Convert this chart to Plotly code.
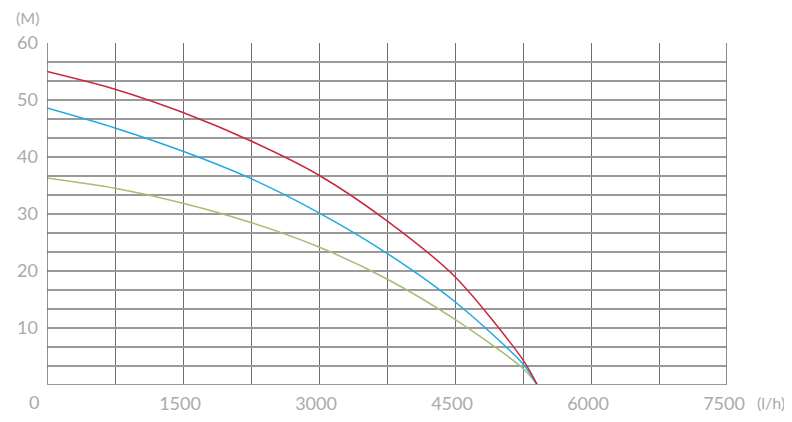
import plotly.graph_objects as go

flow = [0, 750, 1500, 2250, 3000, 3750, 4500, 5250, 5408]
head_red = [55.0, 51.9, 47.8, 42.8, 36.8, 28.8, 19.0, 4.4, 0.0]
head_blue = [48.6, 45.1, 41.0, 36.2, 30.2, 23.1, 14.6, 3.7, 0.0]
head_green = [36.3, 34.5, 31.9, 28.5, 24.2, 18.6, 11.5, 2.9, 0.0]

x_tickvals = [i * 750 for i in range(11)]
x_ticktext = ["" if (v % 1500 or v == 0) else str(v) for v in x_tickvals]
y_tickvals = [i * 10 / 3 for i in range(19)]
y_ticktext = [str(int(round(v))) if (i % 3 == 0 and i > 0) else "" for i, v in enumerate(y_tickvals)]

# page body has an 8px margin, so the figure is drawn from (8, 8)
OFF = 8
W, H = 792 - OFF, 422 - OFF
L, R, T, B = 47 - OFF, 65, 43 - OFF, 37
pw, ph = W - L - R, H - T - B


def px_to_paper(px, py):
    return (px - OFF - L) / pw, 1 - (py - OFF - T) / ph


fig = go.Figure()
for ys, c in [(head_green, "#a6bd78"), (head_blue, "#1fa9e0"), (head_red, "#c8283c")]:
    fig.add_trace(go.Scatter(x=flow, y=ys, mode="lines",
                             line=dict(color=c, width=1.5, shape="spline", smoothing=0.8),
                             hoverinfo="skip", showlegend=False))

tickfont = dict(family="Lato, DejaVu Sans, sans-serif", size=18, color="#aaaaaa")
unitfont = dict(family="Lato, DejaVu Sans, sans-serif", size=16, color="#aaaaaa")
lx, ly = px_to_paper(787, 402)
mx, my = px_to_paper(27, 18)
fig.update_layout(
    width=W, height=H,
    margin=dict(l=L, r=R, t=T, b=B, autoexpand=False),
    paper_bgcolor="white", plot_bgcolor="white",
    xaxis=dict(range=[0, 7500], tickvals=x_tickvals, ticktext=x_ticktext, showgrid=True,
               gridcolor="#6e6e6e", gridwidth=1, zeroline=False, showline=False, automargin=False,
               tickfont=tickfont, ticks="", ticklabelshift=-3, ticklabelstandoff=6, fixedrange=True),
    yaxis=dict(range=[0, 60], tickvals=y_tickvals, ticktext=y_ticktext, showgrid=True,
               gridcolor="#9a9a9a", gridwidth=2, zeroline=False, showline=False, automargin=False,
               tickfont=tickfont, ticks="", ticklabelstandoff=8, fixedrange=True),
    annotations=[
        dict(text="0", x=0, y=0, xref="x", yref="y", xshift=-13, yshift=-17, showarrow=False, font=tickfont),
        dict(text="(l/h)", x=lx, y=ly, xref="paper", yref="paper", xanchor="right", yanchor="middle",
             showarrow=False, font=unitfont),
        dict(text="(M)", x=mx, y=my, xref="paper", yref="paper", xanchor="center", yanchor="middle",
             showarrow=False, font=unitfont),
    ],
)
fig.add_shape(type="line", xref="x", yref="paper", x0=7500, x1=7500, y0=0, y1=1, line=dict(color="#8a8a8a", width=2))
fig.add_shape(type="line", xref="x", yref="paper", x0=0, x1=0, y0=0, y1=1, line=dict(color="#6e6e6e", width=1.5))
fig.add_shape(type="line", xref="paper", yref="y", x0=0, x1=1, y0=0, y1=0, line=dict(color="#9a9a9a", width=2))
fig.write_html("out.html")
